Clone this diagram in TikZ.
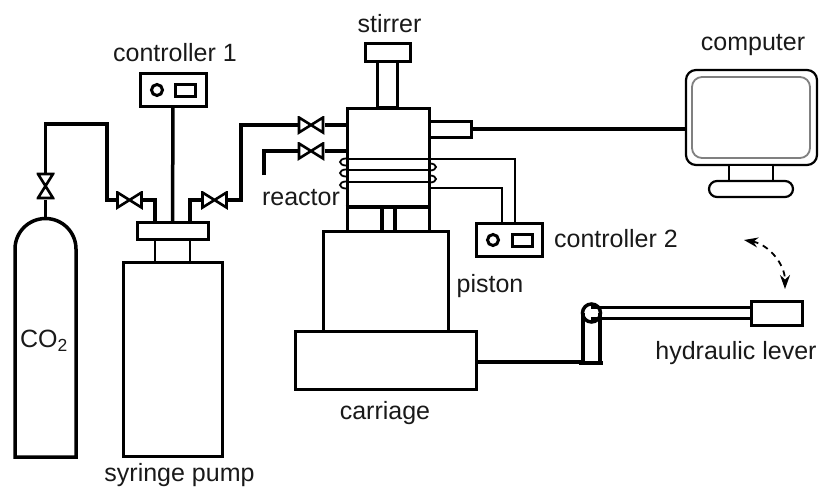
\documentclass[tikz,border=0pt]{standalone}
\usepackage{fontspec}
\setmainfont{Liberation Sans}
\usetikzlibrary{arrows.meta,calc}
\tikzset{
  box/.style={draw=black,fill=white,line width=3pt,inner sep=0pt,outer sep=0pt,rectangle},
  pipe/.style={line width=3.5pt,line cap=butt,line join=miter},
  wire/.style={line width=2pt},
  lab/.style={inner sep=0pt,font=\fontsize{25}{25}\selectfont,text=black!90},
  valveh/.style={inner sep=0pt,outer sep=0pt,minimum width=27pt,minimum height=18pt,
    path picture={\draw[line width=2.6pt,line join=miter,fill=white]
      ([xshift=1.5pt,yshift=-1.5pt]path picture bounding box.north west) -- ([xshift=-1.5pt,yshift=1.5pt]path picture bounding box.south east) -- ([xshift=-1.5pt,yshift=-1.5pt]path picture bounding box.north east) -- ([xshift=1.5pt,yshift=1.5pt]path picture bounding box.south west) -- cycle;}},
  valvev/.style={inner sep=0pt,outer sep=0pt,minimum width=18pt,minimum height=27pt,
    path picture={\draw[line width=2.6pt,line join=miter,fill=white]
      ([xshift=1.5pt,yshift=-1.5pt]path picture bounding box.north west) -- ([xshift=-1.5pt,yshift=-1.5pt]path picture bounding box.north east) -- ([xshift=1.5pt,yshift=1.5pt]path picture bounding box.south west) -- ([xshift=-1.5pt,yshift=1.5pt]path picture bounding box.south east) -- cycle;}},
}
\begin{document}
\begin{tikzpicture}[x=1pt,y=-1pt]
\useasboundingbox (0,0) rectangle (819,487);
% syringe pump
\node[box,minimum width=99pt,minimum height=194pt] (pump) at (172.5,359) {};
\node[box,line width=2.6pt,minimum width=35pt,minimum height=23pt] (neck) at (172.5,250.5) {};
\node[box,minimum width=71pt,minimum height=17pt] (flange) at (172.5,230.5) {};
% controller 1
\node[box,minimum width=66pt,minimum height=32pt] (ctrlA) at (173,90) {};
\node[circle,draw,line width=3pt,minimum size=11pt,inner sep=0pt] (knobA) at (157,90) {};
\node[box,minimum width=20pt,minimum height=12pt] (dispA) at (185,90) {};
\draw[pipe] (ctrlA.south) -- (flange.north);
% cylinder
\coordinate (cyltop) at (45.5,218);
\draw[line width=3.5pt] (15,457) -- (15,249) arc[start angle=180,end angle=360,radius=30.5] -- (76,457) (13.25,457) -- (77.75,457);
% valves
\node[valvev] (v0) at (45.5,186) {};
\node[valveh] (v1) at (129.5,200) {};
\node[valveh] (v2) at (214.5,200) {};
\node[valveh] (v3) at (311,125) {};
\node[valveh] (v4) at (311,151) {};
% coils (behind the reactor wall)
\foreach \cy in {162,173,185}{\draw[line width=1.8pt] (346,\cy) ellipse[x radius=6,y radius=3.5];}
\foreach \cy in {167,179}{\draw[line width=1.8pt] (430,\cy) ellipse[x radius=6,y radius=3.5];}
% reactor
\node[box,minimum width=82pt,minimum height=99pt] (reactor) at (388,157.5) {};
\draw[line width=3pt] (347,207) -- (347,231) (429,207) -- (429,231);
\draw[line width=4pt] (345.5,207) -- (430.5,207);
\draw[line width=3.5pt] (382,207) -- (382,231) (395,207) -- (395,231);
% stirrer
\node[box,line width=3pt,minimum width=20pt,minimum height=46pt] (shaft) at (387.5,85) {};
\node[box,minimum width=45pt,minimum height=18pt] (stirtop) at (387.5,53) {};
\draw[line width=3.5pt] (shaft.south west) -- (shaft.south east);
% side box
\node[box,minimum width=42pt,minimum height=16pt] (side) at (450,129) {};
% piston, carriage
\node[box,minimum width=125pt,minimum height=100pt] (piston) at (385.5,281) {};
\node[box,minimum width=181pt,minimum height=58pt] (carriage) at (385.5,360) {};
% controller 2
\node[box,minimum width=66pt,minimum height=33pt] (ctrlB) at (509.5,240) {};
\node[circle,draw,line width=3pt,minimum size=11pt,inner sep=0pt] (knobB) at (493,240) {};
\node[box,minimum width=20pt,minimum height=12pt] (dispB) at (522,240) {};
% coil wires
\coordinate (wA) at (429,159);
\draw[wire] (347,159) -- (429,159) (347,170) -- (429,170) (347,182) -- (429,182);
\draw[wire] (wA) -| ($(ctrlB.north)+(5.5,0)$);
\draw[wire] (429,188) -| ($(ctrlB.north)+(-7.5,0)$);
% pipes
\draw[pipe] (cyltop) -- (v0.south);
\draw[pipe] (v0.north) |- (107,124) -- (107,200) -- (v1.west);
\draw[pipe] (v1.east) -- (155,200) -- ($(flange.north)+(-17.5,0)$);
\draw[pipe] ($(flange.north)+(17.5,0)$) -- (190,200) -- (v2.west);
\draw[pipe] (v2.east) -- (241,200) -- (241,125) -- (v3.west);
\draw[pipe] (v3.east) -- (reactor.west |- v3);
\coordinate (ventend) at (264,175);
\draw[pipe] (ventend) |- (v4.west);
\draw[pipe] (v4.east) -- (reactor.west |- v4);
% computer
\node[draw,line width=2.2pt,fill=white,rectangle,rounded corners=10pt,minimum width=131pt,minimum height=95pt,inner sep=0pt,outer sep=0pt] (comp) at (751.5,117.5) {};
\node[draw=black!50,line width=1.8pt,rectangle,rounded corners=10pt,minimum width=118pt,minimum height=81pt,inner sep=0pt] (screen) at (751,117.5) {};
\node[draw,line width=2.2pt,fill=white,rectangle,minimum width=44pt,minimum height=16pt,inner sep=0pt,outer sep=0pt] (stand) at (751,173) {};
\node[draw,line width=2.2pt,fill=white,rectangle,rounded corners=8pt,minimum width=84pt,minimum height=16pt,inner sep=0pt,outer sep=0pt] (foot) at (751,189) {};
\draw[pipe] (side.east) -- (side.east -| comp.west);
% hydraulic lever
\node[box,minimum width=51pt,minimum height=24pt] (lever) at (776.5,313) {};
\node[circle,draw,line width=3.5pt,minimum size=18pt,inner sep=0pt,outer sep=0pt] (pivot) at (591.5,313) {};
\draw[line width=3.5pt] (583,313) -- (583,363) (600,313) -- (600,363) (579,363) -- (603,363);
\draw[line width=3pt] (591,307) -- (lever.west |- 0,307) (591,318) -- (lever.west |- 0,318);
\draw[pipe] (carriage.east |- 0,362) -- (583,362);
\draw[line width=1.8pt,dash pattern=on 6pt off 5pt,{Stealth[length=14pt,width=10pt]}-{Stealth[length=14pt,width=10pt]}] (744,240) to[bend left=40] (785,289);
% labels
\node[lab] (l1) at (389.5,24) {stirrer};
\node[lab] (l2) at (175,53) {controller 1};
\node[lab] (l3) at (753,45) {computer};
\node[lab] (l4) at (301,197.5) {reactor};
\node[lab] (l5) at (616,238.5) {controller 2};
\node[lab] (l6) at (490,286.5) {piston};
\node[lab] (l7) at (385,413) {carriage};
\node[lab] (l8) at (736,353) {hydraulic lever};
\node[lab] (l9) at (179.5,475) {syringe pump};
\node[lab] (l10) at (44,341) {CO\textsubscript{2}};
\end{tikzpicture}
\end{document}
